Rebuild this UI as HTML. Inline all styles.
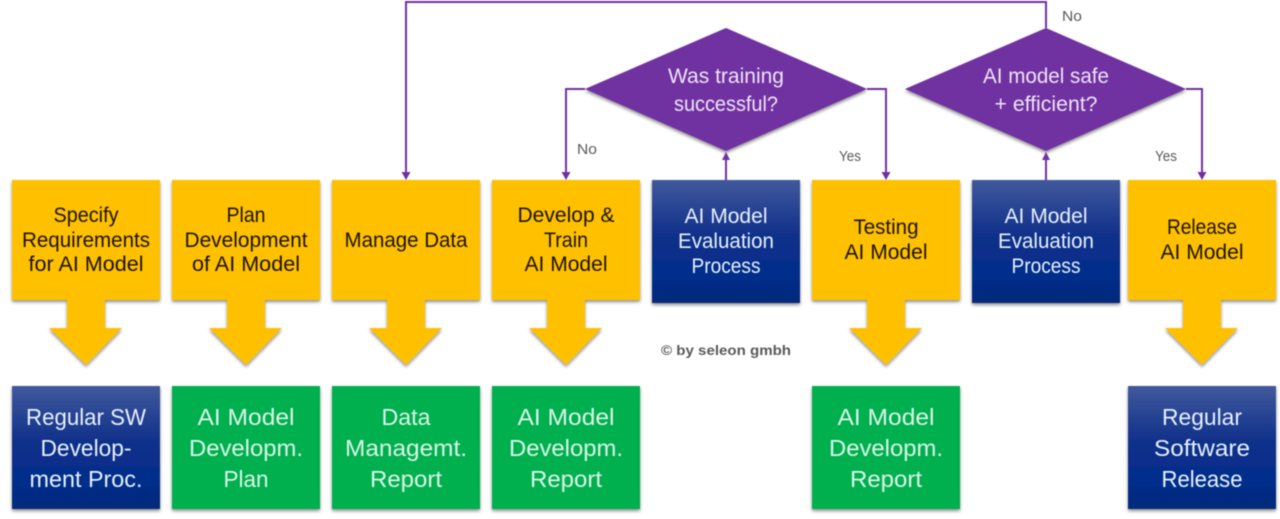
<!DOCTYPE html>
<html><head><meta charset="utf-8"><style>
html,body{margin:0;padding:0;background:#fff;width:1280px;height:519px;overflow:hidden}
svg{display:block;filter:blur(.45px)}
text{font-family:"Liberation Sans",sans-serif;text-anchor:middle}
.y{font-size:21px;fill:#1c1406}
.w{font-size:21px;fill:#e6f0fa}
.b{font-size:23px;fill:#e6f0fa}
.g{font-size:23px;fill:#d9f5e6}
.d{font-size:21px;fill:#efe3f7}
.l{font-size:15px;fill:#595959}
</style></head><body>
<svg width="1280" height="519" viewBox="0 0 1280 519" xmlns="http://www.w3.org/2000/svg">
<defs>
<linearGradient id="bl" x1="0" y1="0" x2="0" y2="1"><stop offset="0" stop-color="#41599c"/><stop offset=".45" stop-color="#10308a"/><stop offset=".8" stop-color="#002d8a"/><stop offset="1" stop-color="#072a78"/></linearGradient>
<filter id="s" x="-10%" y="-10%" width="120%" height="120%"><feDropShadow dx="0" dy="2" stdDeviation="1.5" flood-color="#000" flood-opacity=".45"/></filter>
</defs>
<g filter="url(#s)">
<path fill="#ffc000" d="M67 300V328H49L86 365L122 328H105V300Z"/>
<path fill="#ffc000" d="M227 300V328H209L246 365L282 328H265V300Z"/>
<path fill="#ffc000" d="M387 300V328H369L406 365L442 328H425V300Z"/>
<path fill="#ffc000" d="M547 300V328H529L566 365L602 328H585V300Z"/>
<path fill="#ffc000" d="M867 300V328H849L886 365L922 328H905V300Z"/>
<path fill="#ffc000" d="M1183 300V328H1165L1202 365L1238 328H1221V300Z"/>
<rect x="12" y="180" width="148" height="120" fill="#ffc000"/>
<rect x="172" y="180" width="148" height="120" fill="#ffc000"/>
<rect x="332" y="180" width="148" height="120" fill="#ffc000"/>
<rect x="492" y="180" width="148" height="120" fill="#ffc000"/>
<rect x="812" y="180" width="148" height="120" fill="#ffc000"/>
<rect x="1128" y="180" width="148" height="120" fill="#ffc000"/>
<rect x="652" y="180" width="148" height="123" fill="url(#bl)"/>
<rect x="972" y="180" width="148" height="123" fill="url(#bl)"/>
<rect x="12" y="386" width="148" height="123" fill="url(#bl)"/>
<rect x="1128" y="386" width="148" height="123" fill="url(#bl)"/>
<rect x="172" y="386" width="148" height="123" fill="#00b050"/>
<rect x="332" y="386" width="148" height="123" fill="#00b050"/>
<rect x="492" y="386" width="148" height="123" fill="#00b050"/>
<rect x="812" y="386" width="148" height="123" fill="#00b050"/>
<path fill="#7030a0" d="M726 28L867 89L726 151L585 89Z"/>
<path fill="#7030a0" d="M1046 28L1186 89L1046 151L905 89Z"/>
</g>
<g fill="none" stroke="#7030a0" stroke-width="2">
<path d="M1046 28V2H406V172"/>
<path d="M585 89H566V172"/>
<path d="M867 89H886V172"/>
<path d="M726 180V158"/>
<path d="M1046 180V158"/>
<path d="M1186 89H1202V172"/>
</g>
<g fill="#7030a0">
<path d="M401.500 172h9L406 180Z"/>
<path d="M561.500 172h9L566 180Z"/>
<path d="M881.500 172h9L886 180Z"/>
<path d="M1197.500 172h9L1202 180Z"/>
<path d="M722 160h8L726 152Z"/>
<path d="M1042 160h8L1046 152Z"/>
</g>
<text class="y" x="86" y="222" textLength="65" lengthAdjust="spacingAndGlyphs">Specify</text>
<text class="y" x="86" y="247" textLength="128" lengthAdjust="spacingAndGlyphs">Requirements</text>
<text class="y" x="86" y="271" textLength="115" lengthAdjust="spacingAndGlyphs">for AI Model</text>
<text class="y" x="246" y="222" textLength="39" lengthAdjust="spacingAndGlyphs">Plan</text>
<text class="y" x="246" y="247" textLength="123" lengthAdjust="spacingAndGlyphs">Development</text>
<text class="y" x="246" y="271" textLength="108" lengthAdjust="spacingAndGlyphs">of AI Model</text>
<text class="y" x="406" y="247" textLength="123" lengthAdjust="spacingAndGlyphs">Manage Data</text>
<text class="y" x="566" y="222" textLength="97" lengthAdjust="spacingAndGlyphs">Develop &amp;</text>
<text class="y" x="566" y="247" textLength="44" lengthAdjust="spacingAndGlyphs">Train</text>
<text class="y" x="566" y="271" textLength="83" lengthAdjust="spacingAndGlyphs">AI Model</text>
<text class="y" x="886" y="234" textLength="65" lengthAdjust="spacingAndGlyphs">Testing</text>
<text class="y" x="886" y="259" textLength="83" lengthAdjust="spacingAndGlyphs">AI Model</text>
<text class="y" x="1202" y="234" textLength="70" lengthAdjust="spacingAndGlyphs">Release</text>
<text class="y" x="1202" y="259" textLength="83" lengthAdjust="spacingAndGlyphs">AI Model</text>
<text class="w" x="726" y="223" textLength="83" lengthAdjust="spacingAndGlyphs">AI Model</text>
<text class="w" x="726" y="248" textLength="96" lengthAdjust="spacingAndGlyphs">Evaluation</text>
<text class="w" x="726" y="273" textLength="69" lengthAdjust="spacingAndGlyphs">Process</text>
<text class="w" x="1046" y="223" textLength="83" lengthAdjust="spacingAndGlyphs">AI Model</text>
<text class="w" x="1046" y="248" textLength="96" lengthAdjust="spacingAndGlyphs">Evaluation</text>
<text class="w" x="1046" y="273" textLength="69" lengthAdjust="spacingAndGlyphs">Process</text>
<text class="b" x="86" y="425" textLength="120" lengthAdjust="spacingAndGlyphs">Regular SW</text>
<text class="b" x="86" y="456" textLength="91" lengthAdjust="spacingAndGlyphs">Develop-</text>
<text class="b" x="86" y="487" textLength="113" lengthAdjust="spacingAndGlyphs">ment Proc.</text>
<text class="b" x="1202" y="425" textLength="80" lengthAdjust="spacingAndGlyphs">Regular</text>
<text class="b" x="1202" y="456" textLength="96" lengthAdjust="spacingAndGlyphs">Software</text>
<text class="b" x="1202" y="487" textLength="81" lengthAdjust="spacingAndGlyphs">Release</text>
<text class="g" x="246" y="425" textLength="97" lengthAdjust="spacingAndGlyphs">AI Model</text>
<text class="g" x="246" y="456" textLength="114" lengthAdjust="spacingAndGlyphs">Developm.</text>
<text class="g" x="246" y="487" textLength="45" lengthAdjust="spacingAndGlyphs">Plan</text>
<text class="g" x="406" y="425" textLength="49" lengthAdjust="spacingAndGlyphs">Data</text>
<text class="g" x="406" y="456" textLength="122" lengthAdjust="spacingAndGlyphs">Managemt.</text>
<text class="g" x="406" y="487" textLength="72" lengthAdjust="spacingAndGlyphs">Report</text>
<text class="g" x="566" y="425" textLength="97" lengthAdjust="spacingAndGlyphs">AI Model</text>
<text class="g" x="566" y="456" textLength="114" lengthAdjust="spacingAndGlyphs">Developm.</text>
<text class="g" x="566" y="487" textLength="72" lengthAdjust="spacingAndGlyphs">Report</text>
<text class="g" x="886" y="425" textLength="97" lengthAdjust="spacingAndGlyphs">AI Model</text>
<text class="g" x="886" y="456" textLength="114" lengthAdjust="spacingAndGlyphs">Developm.</text>
<text class="g" x="886" y="487" textLength="72" lengthAdjust="spacingAndGlyphs">Report</text>
<text class="d" x="726" y="83" textLength="116" lengthAdjust="spacingAndGlyphs">Was training</text>
<text class="d" x="726" y="111" textLength="104" lengthAdjust="spacingAndGlyphs">successful?</text>
<text class="d" x="1046" y="83" textLength="126" lengthAdjust="spacingAndGlyphs">AI model safe</text>
<text class="d" x="1046" y="111" textLength="103" lengthAdjust="spacingAndGlyphs">+ efficient?</text>
<text class="l" x="587" y="154" textLength="20" lengthAdjust="spacingAndGlyphs">No</text>
<text class="l" x="850" y="161" textLength="22" lengthAdjust="spacingAndGlyphs">Yes</text>
<text class="l" x="1072" y="21" textLength="20" lengthAdjust="spacingAndGlyphs">No</text>
<text class="l" x="1166" y="161" textLength="22" lengthAdjust="spacingAndGlyphs">Yes</text>
<text x="726" y="355" font-size="14" font-weight="bold" fill="#595959" textLength="130" lengthAdjust="spacingAndGlyphs">© by seleon gmbh</text>
</svg>
</body></html>
